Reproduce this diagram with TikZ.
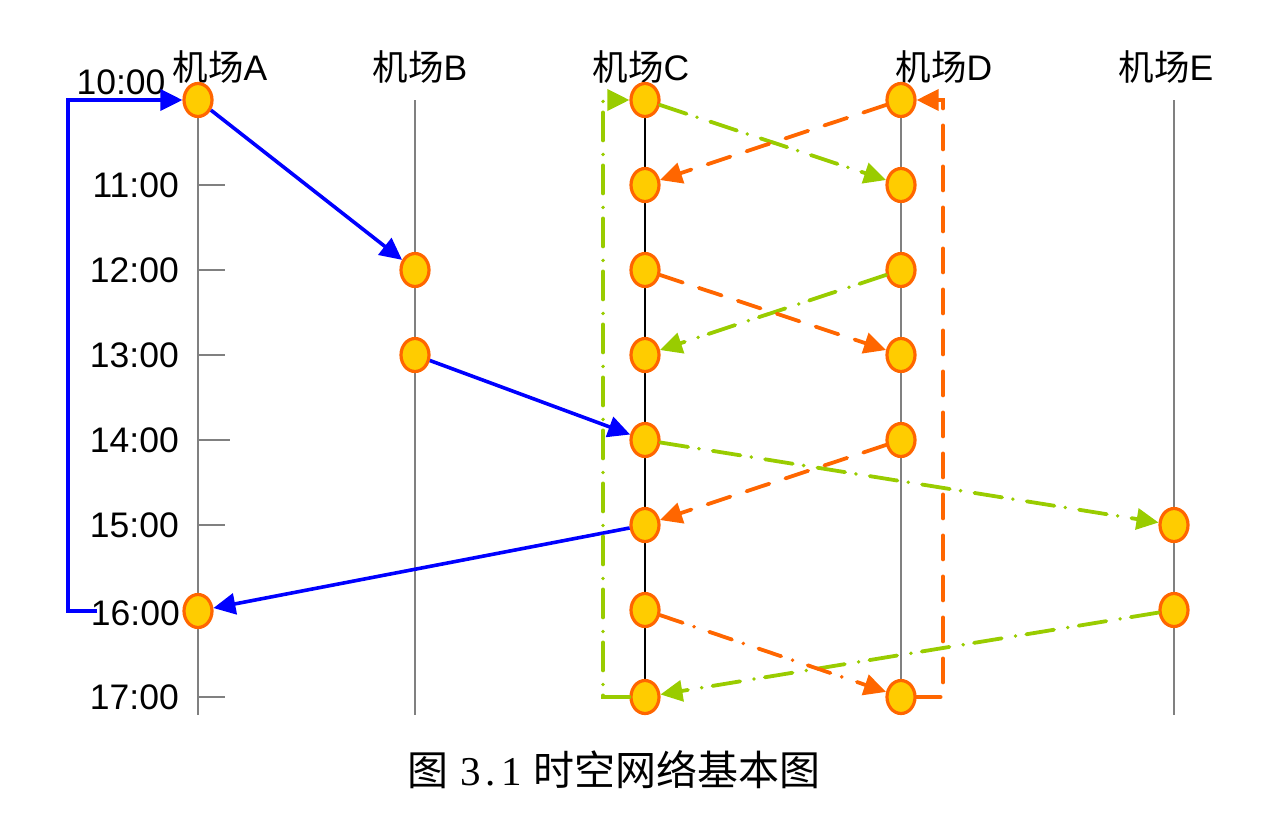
\documentclass[tikz,border=0pt]{standalone}
\usepackage{fontspec}
\setmainfont{Liberation Sans}
\newfontfamily\cjk{Noto Sans CJK SC}
\newfontfamily\serifdigits{Liberation Serif}
\usetikzlibrary{shapes.geometric,arrows.meta}
\definecolor{cblue}{HTML}{0000FF}
\definecolor{cgreen}{HTML}{99CC00}
\definecolor{corange}{HTML}{FF6600}
\definecolor{cyellow}{HTML}{FFCC00}
\definecolor{cgray}{HTML}{808080}
\begin{document}
\begin{tikzpicture}[x=1pt,y=-1pt,
  apt/.style={ellipse,draw=corange,fill=cyellow,line width=3.2pt,minimum width=28pt,minimum height=33pt,inner sep=0pt},
  axisline/.style={draw=cgray,line width=1.4pt},
  axislineC/.style={draw=black,line width=1.1pt},
  tick/.style={draw=cgray,line width=1.2pt},
  lbl/.style={font=\fontsize{35.5}{42}\selectfont,inner sep=0pt},
  tip/.style={-{Triangle[length=22pt,width=21pt]}},
  blueflow/.style={draw=cblue,line width=3.6pt},
  greenflow/.style={draw=cgreen,line width=3.8pt,line cap=round,dash pattern=on 28pt off 11pt on 0pt off 14pt},
  orangedash/.style={draw=corange,line width=3.8pt,line cap=round,dash pattern=on 24pt off 17pt},
  orangedot/.style={draw=corange,line width=3.8pt,line cap=round,dash pattern=on 24pt off 12pt on 0pt off 16pt},
]
\useasboundingbox (0,0) rectangle (1264,825);

% axes
\draw[axisline] (198,100) -- (198,715);
\draw[axisline] (415,100) -- (415,715);
\draw[axislineC] (645,100) -- (645,715);
\draw[axisline] (901,100) -- (901,715);
\draw[axisline] (1174,100) -- (1174,715);

% ticks
\foreach \yy in {185,270,355,525,697} \draw[tick] (198,\yy) -- (225,\yy);
\draw[tick] (198,440) -- (230,440);

% time labels
\node[lbl] (t10) at (121,82) {10:00};
\node[lbl,anchor=east] (t11) at (179,185) {11:00};
\node[lbl,anchor=east] (t12) at (179,270) {12:00};
\node[lbl,anchor=east] (t13) at (179,355) {13:00};
\node[lbl,anchor=east] (t14) at (179,440) {14:00};
\node[lbl,anchor=east] (t15) at (179,525) {15:00};
\node[lbl,anchor=east] (t16) at (180,613) {16:00};
\node[lbl,anchor=east] (t17) at (179,697) {17:00};

% airport labels
\node[lbl] (la) at (220,67) {{\cjk 机场}A};
\node[lbl] (lb) at (420,67) {{\cjk 机场}B};
\node[lbl] (lc) at (641,67) {{\cjk 机场}C};
\node[lbl] (ld) at (944,67) {{\cjk 机场}D};
\node[lbl] (le) at (1166,67) {{\cjk 机场}E};

% airport-time nodes
\node[apt] (A10) at (198,100) {};
\node[apt] (A16) at (198,611) {};
\node[apt] (B12) at (415,270) {};
\node[apt] (B13) at (415,355) {};
\foreach \n/\yy in {10/100,11/185,12/270,13/355,14/440,15/525,16/610,17/697}
  \node[apt] (C\n) at (645,\yy) {};
\foreach \n/\yy in {10/100,11/185,12/270,13/355,14/440,17/697}
  \node[apt] (D\n) at (901,\yy) {};
\node[apt] (E15) at (1174,525) {};
\node[apt] (E16) at (1174,610) {};

% blue flights
\draw[blueflow,tip] (A10) -- (B12);
\draw[blueflow,tip] (B13) -- (C14);
\draw[blueflow,tip] (C15) -- (A16);
\coordinate (bs) at (97,611);
\coordinate (bc) at (68,611);
\draw[blueflow,tip] (bs) -- (bc) |- (A10);

% green flights
\draw[greenflow,tip] (C10) -- (D11);
\draw[greenflow,tip] (D12) -- (C13);
\draw[greenflow,tip] (C14) -- (E15);
\draw[greenflow,tip] (E16) -- (C17);
\coordinate (gc) at (603,697);
\draw[greenflow,tip] (C17) -- (gc) |- (C10);

% orange flights
\draw[orangedash,tip] (D10) -- (C11);
\draw[orangedash,tip] (C12) -- (D13);
\draw[orangedash,tip] (D14) -- (C15);
\draw[orangedot,tip] (C16) -- (D17);
\coordinate (oc) at (943,697);
\draw[orangedash,tip] (D17) -- (oc) |- (D10);

% caption
\node[font=\fontsize{41}{48}\selectfont,inner sep=0pt] (cap) at (614,770)
  {{\cjk 图}\ {\serifdigits 3\kern5pt.\kern5pt1}\ {\cjk 时空网络基本图}};
\end{tikzpicture}
\end{document}
